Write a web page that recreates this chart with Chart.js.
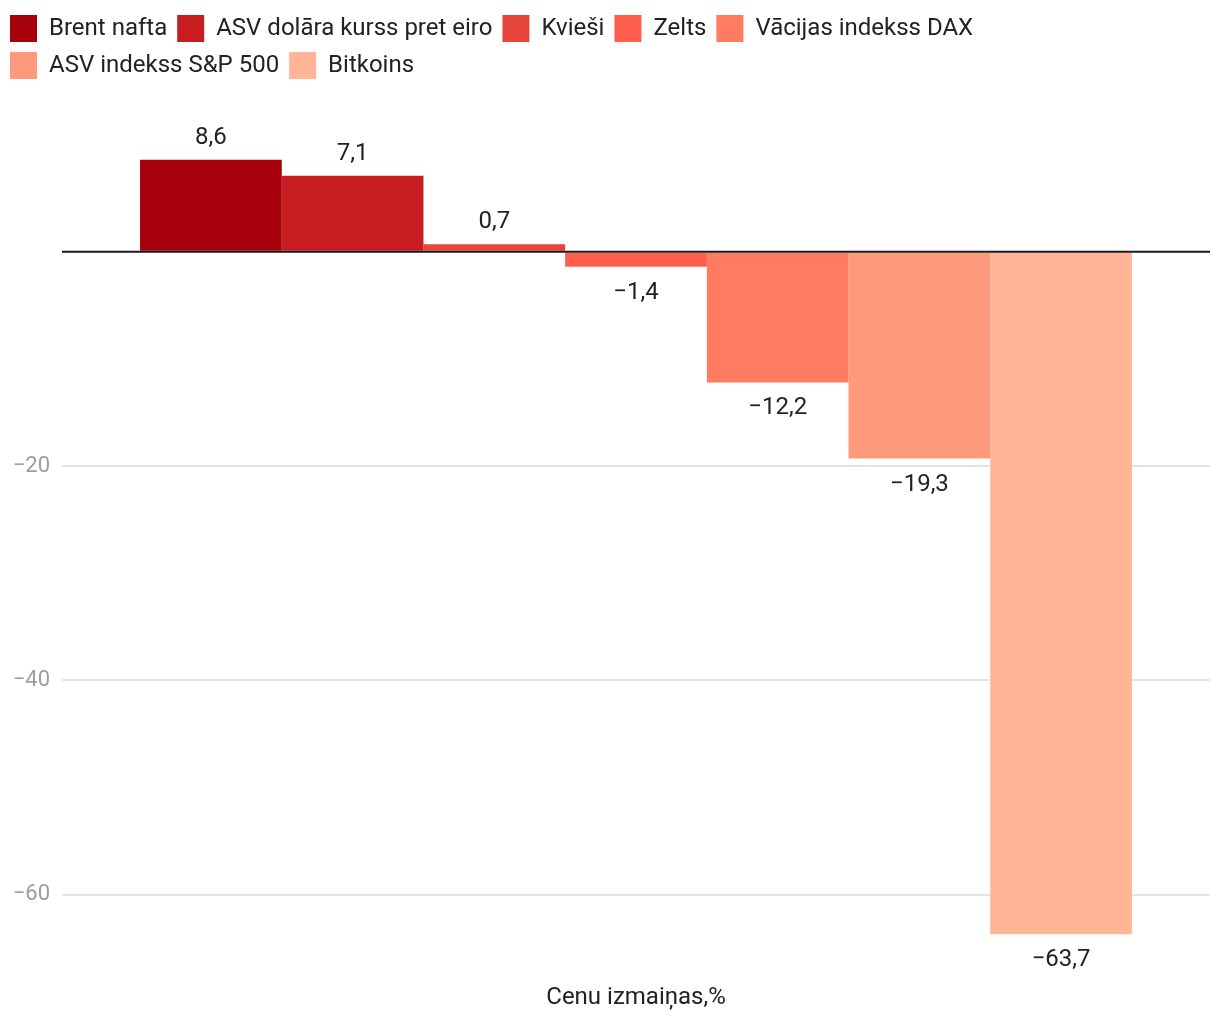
<!DOCTYPE html>
<html>
<head>
<meta charset="utf-8">
<script src="https://cdn.jsdelivr.net/npm/chart.js@4.4.0/dist/chart.umd.min.js"></script>
<style>
  html, body { margin: 0; padding: 0; background: #fff; }
  #wrap { width: 1220px; height: 1020px; position: relative; }
</style>
</head>
<body>
<div id="wrap"><canvas id="myChart"></canvas></div>
<script>
var categories = ['Cenu izmaiņas,%'];
var seriesNames = ['Brent nafta', 'ASV dolāra kurss pret eiro', 'Kvieši', 'Zelts',
  'Vācijas indekss DAX', 'ASV indekss S&P 500', 'Bitkoins'];
var seriesValues = [8.6, 7.1, 0.7, -1.4, -12.2, -19.3, -63.7];
var seriesColors = ['#a6000a', '#c81d20', '#e8453a', '#ff5f4d', '#ff7c63', '#ff997c', '#ffb596'];
var yTicks = [-60, -40, -20, 0];

Chart.defaults.font.family = 'Roboto';

function fmt(v) {
  var s = Math.abs(v).toFixed(1).replace('.', ',');
  return (v < 0 ? '\u2212' : '') + s;
}

// value labels above / below each bar
var valueLabels = {
  id: 'valueLabels',
  afterDatasetsDraw: function(chart) {
    var ctx = chart.ctx;
    ctx.save();
    ctx.font = '24px Roboto';
    ctx.fillStyle = '#222';
    ctx.textAlign = 'center';
    ctx.textBaseline = 'middle';
    chart.data.datasets.forEach(function(ds, i) {
      var bar = chart.getDatasetMeta(i).data[0];
      var v = ds.data[0];
      var y = v >= 0 ? bar.y - 22 : bar.y + 26;
      ctx.fillText(fmt(v), bar.x, y);
    });
    // zero line on top of the bars
    var y0 = chart.scales.y.getPixelForValue(0);
    ctx.strokeStyle = '#1a1a1a';
    ctx.lineWidth = 2;
    ctx.beginPath();
    ctx.moveTo(chart.chartArea.left, y0);
    ctx.lineTo(chart.chartArea.right, y0);
    ctx.stroke();
    ctx.restore();
  }
};

var ctx = document.getElementById('myChart').getContext('2d');
var chart = new Chart(ctx, {
  type: 'bar',
  data: {
    labels: categories,
    datasets: seriesNames.map(function(name, i) {
      return {
        label: name,
        data: [seriesValues[i]],
        backgroundColor: seriesColors[i],
        borderWidth: 0,
        categoryPercentage: 0.864,
        barPercentage: 1
      };
    })
  },
  options: {
    responsive: true,
    maintainAspectRatio: false,
    animation: false,
    layout: { padding: { top: 5, left: 0, right: 10, bottom: 5 } },
    plugins: {
      tooltip: { enabled: false },
      legend: {
        position: 'top',
        align: 'start',
        labels: {
          boxWidth: 27,
          boxHeight: 27,
          padding: 10,
          color: '#222',
          font: { size: 24 }
        }
      }
    },
    scales: {
      x: {
        grid: { display: false, drawTicks: false },
        border: { display: false },
        ticks: { color: '#222', font: { size: 24 }, padding: 3 }
      },
      y: {
        min: -68,
        max: 15.2,
        afterBuildTicks: function(scale) {
          scale.ticks = yTicks.map(function(v) { return { value: v }; });
        },
        afterFit: function(scale) { scale.width = 62; },
        grid: {
          drawTicks: false,
          lineWidth: 2,
          color: function(c) { return c.tick && c.tick.value === 0 ? 'rgba(0,0,0,0)' : '#e4e4e4'; }
        },
        border: { display: false },
        ticks: {
          crossAlign: 'near',
          padding: 12,
          color: '#9e9e9e',
          font: { size: 22 },
          callback: function(v) { return v === 0 ? '' : '\u2212' + Math.abs(v); }
        }
      }
    }
  },
  plugins: [valueLabels]
});
</script>
</body>
</html>
